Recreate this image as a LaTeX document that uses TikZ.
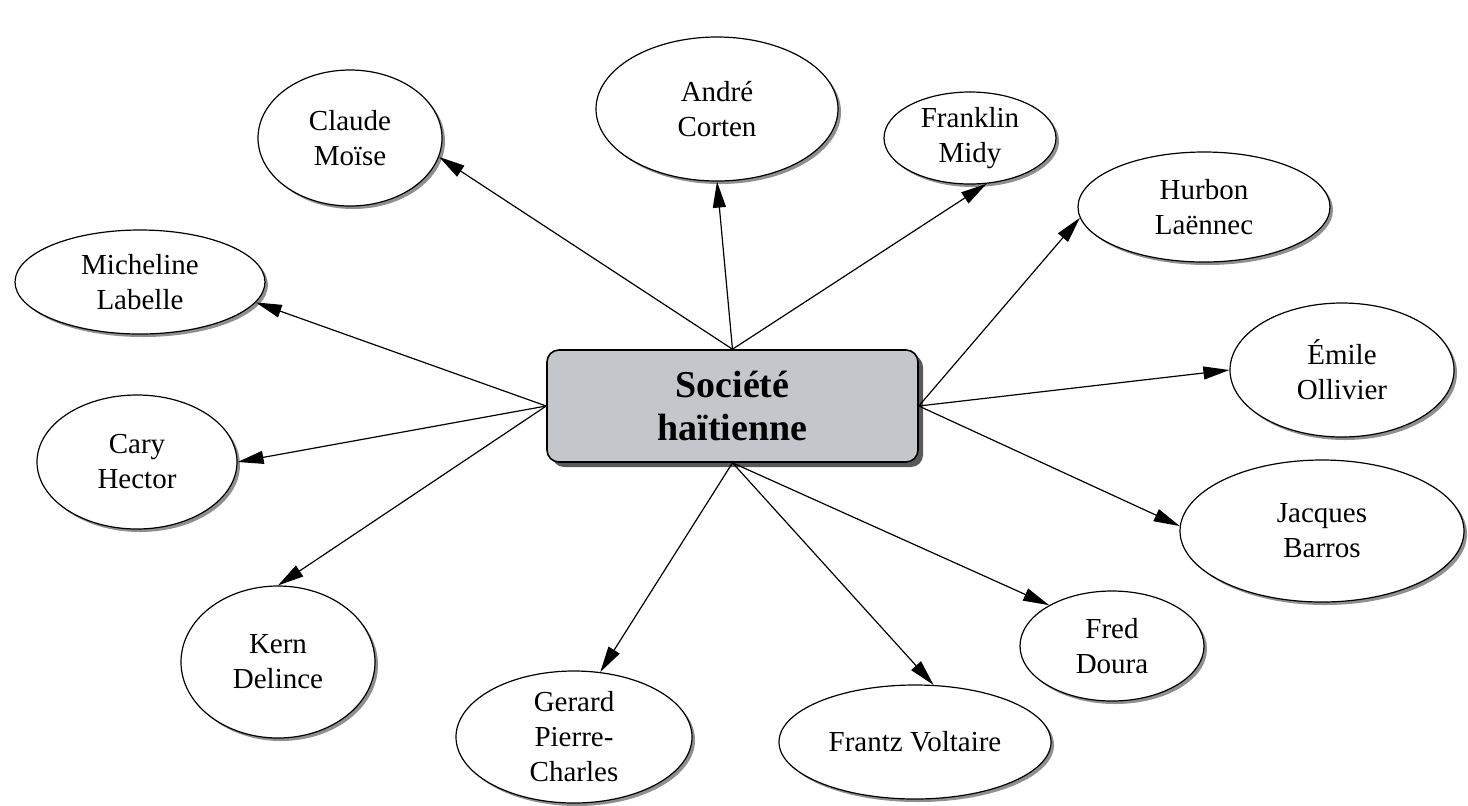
\documentclass[tikz,border=0pt]{standalone}
\usepackage{fontspec}
\setmainfont{Liberation Serif}
\usetikzlibrary{shapes.geometric,shadows,arrows.meta}
\definecolor{grisboite}{RGB}{195,199,204}

\begin{document}
\begin{tikzpicture}[x=0.5pt,y=-0.5pt,
    nom/.style={ellipse,draw,line width=0.6pt,fill=white,inner sep=0pt,align=center,
      font=\fontsize{14.5}{17.5}\selectfont,
      drop shadow={shadow xshift=1.5pt,shadow yshift=-1.5pt,fill=black!55,opacity=0.8}},
    boite/.style={rectangle,rounded corners=6pt,draw,line width=0.8pt,fill=grisboite,
      minimum width=185.5pt,minimum height=56pt,align=center,
      font=\fontsize{19}{21.5}\selectfont\bfseries,
      drop shadow={shadow xshift=2.5pt,shadow yshift=-2.5pt,fill=black!65,opacity=1}},
    fleche/.style={-{Triangle[length=13pt,width=6.5pt]},line width=0.6pt}]
  \useasboundingbox (0,0) rectangle (1468,805);

  % centre
  \node[boite] (societe) at (732.5,406) {Soci\'et\'e\\ha\"itienne};

  % auteurs
  \node[nom,minimum width=92pt,minimum height=68pt] (claude) at (350,138) {Claude\\Mo\"ise};
  \node[nom,minimum width=121pt,minimum height=72pt] (andre) at (717,109) {Andr\'e\\Corten};
  \node[nom,minimum width=86pt,minimum height=46pt] (franklin) at (970,138) {Franklin\\Midy};
  \node[nom,minimum width=126pt,minimum height=55pt] (hurbon) at (1204,207) {Hurbon\\La\"ennec};
  \node[nom,minimum width=125pt,minimum height=52pt] (micheline) at (140,282) {Micheline\\Labelle};
  \node[nom,minimum width=112pt,minimum height=67pt] (emile) at (1342,370) {\'Emile\\Ollivier};
  \node[nom,minimum width=100pt,minimum height=67pt] (cary) at (137,462) {Cary\\Hector};
  \node[nom,minimum width=142pt,minimum height=71pt] (jacques) at (1322,531) {Jacques\\Barros};
  \node[nom,minimum width=97pt,minimum height=76pt] (kern) at (278,662) {Kern\\Delince};
  \node[nom,minimum width=92pt,minimum height=55pt] (fred) at (1112,646) {Fred\\Doura};
  \node[nom,minimum width=118pt,minimum height=66pt] (gerard) at (574,737) {Gerard\\Pierre-\\Charles};
  \node[nom,minimum width=136pt,minimum height=57pt] (frantz) at (915,742) {Frantz Voltaire};

  % fleches
  \draw[fleche] (societe.north) -- (claude.-12);
  \draw[fleche] (societe.north) -- (andre.south);
  \draw[fleche] (societe.north) -- (franklin.-70);
  \draw[fleche] (societe.east) -- (hurbon.185);
  \draw[fleche] (societe.east) -- (emile.west);
  \draw[fleche] (societe.east) -- (jacques.178);
  \draw[fleche] (societe.west) -- (micheline.-10);
  \draw[fleche] (societe.west) -- (cary.east);
  \draw[fleche] (societe.west) -- (kern.north);
  \draw[fleche] (societe.south) -- (gerard.68);
  \draw[fleche] (societe.south) -- (frantz.72);
  \draw[fleche] (societe.south) -- (fred.147);
\end{tikzpicture}
\end{document}
